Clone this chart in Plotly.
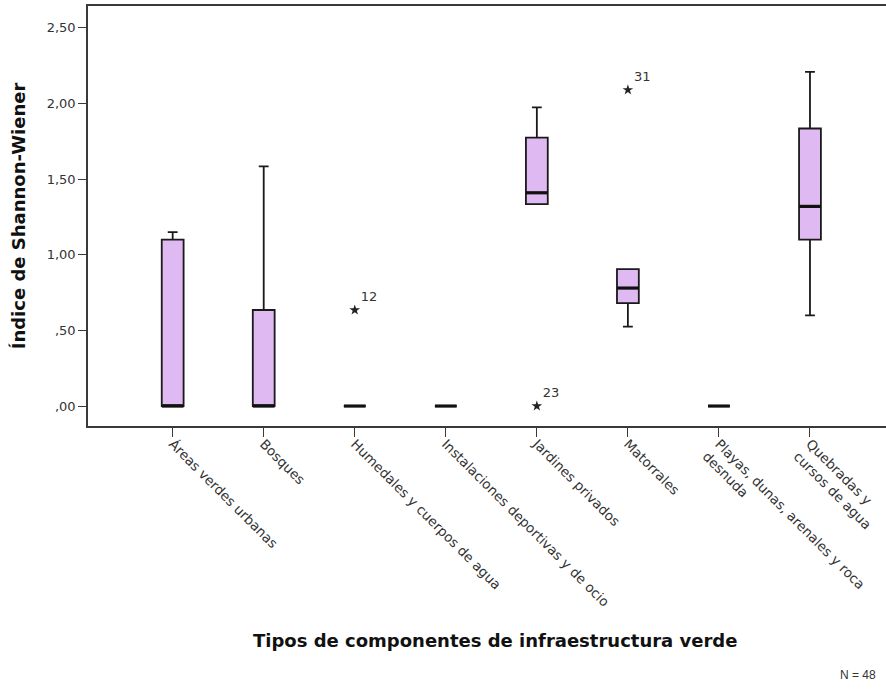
import plotly.graph_objects as go

categories = [
    "Áreas verdes urbanas",
    "Bosques",
    "Humedales y cuerpos de agua",
    "Instalaciones deportivas y de ocio",
    "Jardines privados",
    "Matorrales",
    "Playas, dunas, arenales y roca<br>desnuda",
    "Quebradas y<br>cursos de agua",
]
lower_whisker = [0.00, 0.00, 0.00, 0.00, 1.335, 0.525, 0.00, 0.60]
q1_values = [0.00, 0.00, 0.00, 0.00, 1.335, 0.68, 0.00, 1.10]
median_values = [0.00, 0.00, 0.00, 0.00, 1.41, 0.78, 0.00, 1.32]
q3_values = [1.10, 0.635, 0.00, 0.00, 1.775, 0.905, 0.00, 1.835]
upper_whisker = [1.15, 1.585, 0.00, 0.00, 1.975, 0.905, 0.00, 2.21]

outlier_categories = [categories[2], categories[4], categories[5]]
outlier_values = [0.635, 0.00, 2.09]
outlier_labels = ["12", "23", "31"]

y_tick_values = [0, 0.5, 1.0, 1.5, 2.0, 2.5]
y_tick_labels = [",00", ",50", "1,00", "1,50", "2,00", "2,50"]

FONT = "Liberation Sans, Arial, sans-serif"
WIDE = "DejaVu Sans, Verdana, sans-serif"
TXT = "#333333"
AX = "#3a3a3a"

fig = go.Figure()
fig.add_trace(go.Box(
    x=categories,
    q1=q1_values,
    median=median_values,
    q3=q3_values,
    lowerfence=lower_whisker,
    upperfence=upper_whisker,
    boxpoints=False,
    width=0.24,
    whiskerwidth=0.45,
    fillcolor="#dfb9f1",
    line=dict(color="#1a1a1a", width=1.8),
    showlegend=False,
))
# thick median lines
fig.add_trace(go.Scatter(
    x=categories,
    y=median_values,
    mode="markers",
    marker=dict(symbol="line-ew", size=15.5, line=dict(color="#111111", width=3.2)),
    showlegend=False,
    hoverinfo="skip",
))
# extreme values
fig.add_trace(go.Scatter(
    x=outlier_categories,
    y=outlier_values,
    mode="markers+text",
    marker=dict(symbol="star", size=8, color="#222222"),
    text=outlier_labels,
    textposition="top right",
    textfont=dict(family=WIDE, size=13, color=TXT),
    showlegend=False,
))

fig.update_layout(
    width=886,
    height=689,
    margin=dict(l=88, r=0, t=6, b=263),
    paper_bgcolor="white",
    plot_bgcolor="white",
    font=dict(family=FONT, size=12, color=TXT),
    xaxis=dict(
        type="category",
        categoryorder="array",
        categoryarray=categories,
        range=[-0.93, 7.835],
        showline=True,
        linecolor=AX,
        linewidth=1.6,
        mirror=True,
        ticks="outside",
        ticklen=9,
        tickwidth=1.3,
        tickcolor=AX,
        tickangle=45,
        ticklabelstandoff=-6,
        tickfont=dict(family=WIDE, size=13.5, color=TXT),
        showgrid=False,
        zeroline=False,
        automargin=False,
    ),
    yaxis=dict(
        range=[-0.132, 2.645],
        tickvals=y_tick_values,
        ticktext=y_tick_labels,
        showline=True,
        linecolor=AX,
        linewidth=1.6,
        mirror=False,
        ticks="outside",
        ticklen=8,
        tickwidth=1.3,
        tickcolor=AX,
        tickfont=dict(family=WIDE, size=13, color=TXT),
        showgrid=False,
        zeroline=False,
        automargin=False,
        title=dict(text="<b>Índice de Shannon-Wiener</b>",
                   font=dict(family=WIDE, size=18, color="#111111"),
                   standoff=16),
    ),
    annotations=[
        dict(text="<b>Tipos de componentes de infraestructura verde</b>",
             xref="paper", yref="paper", x=0.51, y=-0.51,
             xanchor="center", yanchor="middle", showarrow=False,
             font=dict(family=WIDE, size=18, color="#111111")),
        dict(text="N = 48",
             xref="paper", yref="paper", x=0.99, y=-0.593,
             xanchor="right", yanchor="middle", showarrow=False,
             font=dict(family=FONT, size=12, color=TXT)),
    ],
)

fig.write_html("out.html", config={"displayModeBar": False},
               post_script="document.body.style.margin='0px';")
